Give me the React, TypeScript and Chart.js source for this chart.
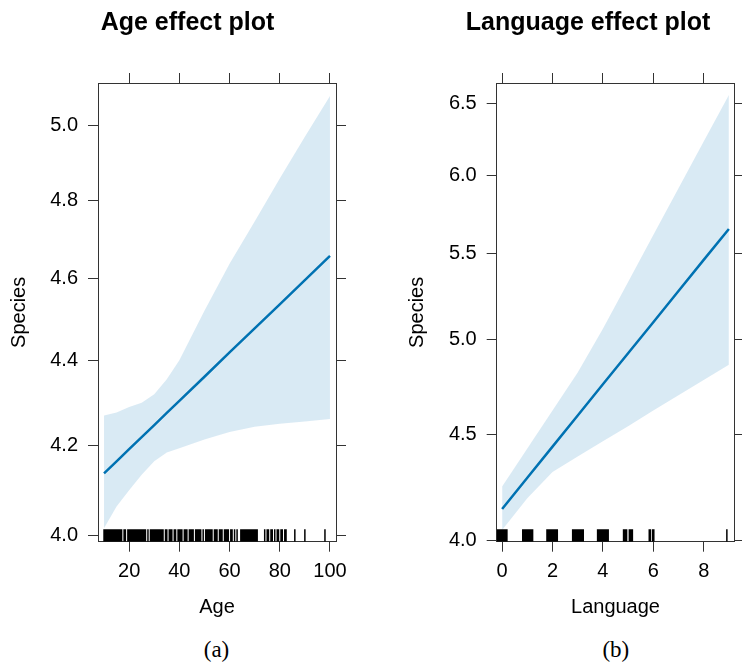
import React, { useEffect, useRef } from "react";
import { Chart, registerables } from "chart.js";

Chart.register(...registerables);

// ---------- Age panel data ----------
const ageX = [10, 15, 20, 25, 30, 35, 40, 50, 60, 70, 80, 90, 100];
const ageFit = [4.138, 4.165, 4.193, 4.22, 4.248, 4.276, 4.304, 4.361, 4.419, 4.477, 4.536, 4.596, 4.657];
const ageLower = [4.016, 4.064, 4.1, 4.135, 4.165, 4.185, 4.195, 4.215, 4.232, 4.244, 4.251, 4.256, 4.262];
const ageUpper = [4.27, 4.277, 4.29, 4.3, 4.32, 4.355, 4.4, 4.52, 4.637, 4.745, 4.857, 4.969, 5.08];
const ageTicksX = [20, 40, 60, 80, 100];
const ageTicksY = [4.0, 4.2, 4.4, 4.6, 4.8, 5.0];
const ageRug = [
  10, 10.5, 11, 11.5, 12, 12.5, 13, 13.5, 14, 14.5, 15, 15.5, 16, 16.5, 17, 18, 18.5,
  19.5, 20, 20.5, 21, 21.5, 22, 22.5, 23, 23.5, 24, 24.5, 25, 25.5, 26, 26.5, 27.5,
  28.5, 29, 29.5, 30, 30.5, 31, 31.5, 32, 32.5, 33, 33.5, 34.5, 35, 36, 36.5, 37, 38,
  38.5, 39.5, 40, 40.5, 41, 42, 42.5, 43, 44, 44.5, 45, 45.5, 46.5, 47, 47.5, 48, 48.5,
  49.5, 50.5, 51, 51.5, 52, 52.5, 53, 54, 54.5, 55, 56, 56.5, 57, 58, 58.5, 59, 59.5,
  60.5, 61, 62, 63, 64.5, 65, 65.5, 66, 66.5, 67, 67.5, 68, 68.5, 69, 69.5, 70, 70.5,
  71, 74, 75, 75.5, 76.5, 77, 78, 79, 79.5, 80.5, 81, 82, 82.5, 86, 90, 98,
];

// ---------- Language panel data ----------
const langX = [0, 1, 2, 3, 4, 5, 6, 7, 8, 9];
const langFit = [4.142, 4.288, 4.439, 4.595, 4.757, 4.924, 5.097, 5.277, 5.462, 5.653];
const langLower = [4.046, 4.191, 4.316, 4.39, 4.465, 4.541, 4.62, 4.699, 4.78, 4.861];
const langUpper = [4.246, 4.43, 4.62, 4.82, 5.06, 5.33, 5.615, 5.915, 6.23, 6.56];
const langTicksX = [0, 2, 4, 6, 8];
const langTicksY = [4.0, 4.5, 5.0, 5.5, 6.0, 6.5];
const langRug = [
  -0.19, -0.15, -0.12, -0.08, -0.05, -0.01, 0.03, 0.06, 0.1, 0.13, 0.17, 0.19,
  0.82, 0.85, 0.89, 0.93, 0.96, 1.0, 1.04, 1.08, 1.11, 1.15, 1.18, 1.21,
  1.78, 1.82, 1.86, 1.9, 1.93, 1.97, 2.01, 2.05, 2.09, 2.12, 2.16, 2.19,
  2.8, 2.84, 2.88, 2.92, 2.95, 2.99, 3.03, 3.07, 3.11, 3.15, 3.18, 3.22,
  3.79, 3.83, 3.87, 3.91, 3.95, 3.99, 4.03, 4.07, 4.11, 4.14, 4.18, 4.21,
  4.82, 4.86, 4.9, 4.94, 5.05, 5.09, 5.13, 5.17,
  5.84, 5.88, 5.97, 6.02,
  8.92,
];

const SANS = "'Liberation Sans', Arial, Helvetica, sans-serif";
const AXIS = "#333333";
const LINE = "#0072B2";
const BAND = "rgba(0,114,178,0.15)";

const rugPlugin = {
  id: "rug",
  afterDatasetsDraw(chart: any, _args: any, opts: any) {
    const xs = chart.scales.x;
    const area = chart.chartArea;
    const ctx = chart.ctx;
    ctx.save();
    ctx.beginPath();
    ctx.rect(area.left, area.top, area.right - area.left, area.bottom - area.top);
    ctx.clip();
    ctx.strokeStyle = "#000";
    ctx.lineWidth = opts.width || 1;
    ctx.beginPath();
    for (const v of opts.values || []) {
      const px = xs.getPixelForValue(v);
      ctx.moveTo(px, area.bottom);
      ctx.lineTo(px, area.bottom - opts.length);
    }
    ctx.stroke();
    ctx.restore();
  },
};

type PanelProps = {
  title: string;
  xTitle: string;
  xs: number[];
  fit: number[];
  lower: number[];
  upper: number[];
  xTicks: number[];
  yTicks: number[];
  rug: number[];
  rugWidth: number;
  xMin: number;
  xMax: number;
  yMin: number;
  yMax: number;
  width: number;
  height: number;
  leftW: number;
  rightW: number;
  yTitlePad: number;
};

function Panel(p: PanelProps) {
  const ref = useRef<HTMLCanvasElement | null>(null);
  useEffect(() => {
    if (!ref.current) return;
    const pts = (ys: number[]) => p.xs.map((x, i) => ({ x, y: ys[i] }));
    const grid = {
      display: true,
      drawOnChartArea: false,
      drawTicks: true,
      tickLength: 10,
      color: AXIS,
      lineWidth: 1,
    };
    const border = { display: true, color: AXIS, width: 1 };
    const setX = (s: any) => {
      s.ticks = p.xTicks.map((v) => ({ value: v }));
    };
    const setY = (s: any) => {
      s.ticks = p.yTicks.map((v) => ({ value: v }));
    };
    const chart = new Chart(ref.current, {
      type: "line",
      data: {
        datasets: [
          {
            data: pts(p.lower),
            borderWidth: 0,
            borderColor: "rgba(0,0,0,0)",
            pointRadius: 0,
            fill: false,
            tension: 0,
          },
          {
            data: pts(p.upper),
            borderWidth: 0,
            borderColor: "rgba(0,0,0,0)",
            backgroundColor: BAND,
            pointRadius: 0,
            fill: "-1",
            tension: 0,
          },
          {
            data: pts(p.fit),
            borderColor: LINE,
            borderWidth: 2.5,
            pointRadius: 0,
            fill: false,
            tension: 0,
          },
        ],
      },
      options: {
        animation: false,
        responsive: false,
        events: [],
        layout: { padding: 0 },
        plugins: {
          legend: { display: false },
          tooltip: { enabled: false },
          title: {
            display: true,
            text: p.title,
            color: "#000",
            font: { family: SANS, size: 25, weight: "bold", lineHeight: 1.2 },
            padding: { top: 8.5, bottom: 8 },
          },
          rug: { values: p.rug, length: 12.5, width: p.rugWidth },
        } as any,
        scales: {
          x: {
            type: "linear",
            position: "bottom",
            min: p.xMin,
            max: p.xMax,
            afterBuildTicks: setX,
            afterFit: (s: any) => {
              s.height = p.height - 541.7;
            },
            grid,
            border,
            ticks: {
              color: "#000",
              font: { family: SANS, size: 20 },
              padding: 8,
              maxRotation: 0,
              autoSkip: false,
            },
            title: {
              display: true,
              text: p.xTitle,
              color: "#000",
              font: { family: SANS, size: 20, lineHeight: 1.2 },
              padding: { top: 0, bottom: 10.5 },
            },
          },
          x2: {
            type: "linear",
            position: "top",
            min: p.xMin,
            max: p.xMax,
            afterBuildTicks: setX,
            afterFit: (s: any) => {
              s.height = 36.5;
            },
            grid,
            border,
            ticks: { display: false },
          },
          y: {
            type: "logarithmic",
            position: "left",
            min: p.yMin,
            max: p.yMax,
            afterBuildTicks: setY,
            afterFit: (s: any) => {
              s.width = p.leftW;
            },
            grid,
            border,
            ticks: {
              color: "#000",
              font: { family: SANS, size: 20 },
              padding: 10,
              autoSkip: false,
              callback: (v: any) => Number(v).toFixed(1),
            },
            title: {
              display: true,
              text: "Species",
              color: "#000",
              font: { family: SANS, size: 20, lineHeight: 1.2 },
              padding: { top: p.yTitlePad, bottom: 0 },
            },
          },
          y2: {
            type: "logarithmic",
            position: "right",
            min: p.yMin,
            max: p.yMax,
            afterBuildTicks: setY,
            afterFit: (s: any) => {
              s.width = p.rightW;
            },
            grid,
            border,
            ticks: { display: false },
          },
        },
      } as any,
      plugins: [rugPlugin],
    });
    return () => chart.destroy();
  }, []);
  return <canvas ref={ref} width={p.width} height={p.height} style={{ display: "block" }} />;
}

export default function App() {
  const captionStyle: React.CSSProperties = {
    position: "absolute",
    top: 638.4,
    width: 100,
    textAlign: "center",
    fontFamily: "'Liberation Serif', 'Times New Roman', serif",
    fontSize: 23,
    lineHeight: "23px",
    color: "#000",
  };
  return (
    <div
      style={{
        position: "absolute",
        left: 0,
        top: 0,
        width: 742,
        height: 663,
        overflow: "hidden",
        background: "#fff",
      }}
    >
      <div style={{ position: "absolute", left: 0, top: 0 }}>
        <Panel
          title="Age effect plot"
          xTitle="Age"
          xs={ageX}
          fit={ageFit}
          lower={ageLower}
          upper={ageUpper}
          xTicks={ageTicksX}
          yTicks={ageTicksY}
          rug={ageRug}
          rugWidth={1.5}
          xMin={7.6}
          xMax={102.4}
          yMin={3.987}
          yMax={5.116}
          width={375}
          height={630}
          leftW={98}
          rightW={39}
          yTitlePad={7.4}
        />
      </div>
      <div style={{ position: "absolute", left: 400, top: 0 }}>
        <Panel
          title="Language effect plot"
          xTitle="Language"
          xs={langX}
          fit={langFit}
          lower={langLower}
          upper={langUpper}
          xTicks={langTicksX}
          yTicks={langTicksY}
          rug={langRug}
          rugWidth={1.5}
          xMin={-0.215}
          xMax={9.215}
          yMin={3.994}
          yMax={6.648}
          width={376}
          height={630}
          leftW={96.7}
          rightW={41.7}
          yTitlePad={5.4}
        />
      </div>
      <div style={{ ...captionStyle, left: 166.5 }}>(a)</div>
      <div style={{ ...captionStyle, left: 565.8 }}>(b)</div>
    </div>
  );
}
